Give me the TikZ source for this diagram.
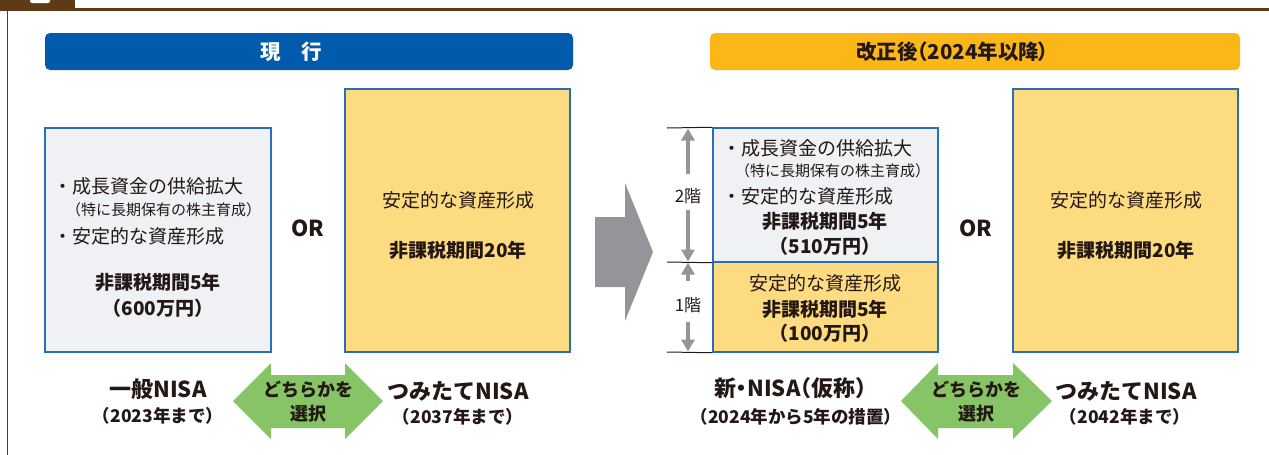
\documentclass[tikz,border=0pt]{standalone}
\usepackage{fontspec}
\setmainfont{Noto Sans CJK JP}
\usetikzlibrary{arrows.meta}
\definecolor{ink}{HTML}{231815}
\definecolor{brown}{HTML}{5E3A16}
\definecolor{hdrblue}{HTML}{005BAC}
\definecolor{hdrorange}{HTML}{FBB718}
\definecolor{boxblue}{HTML}{2A6EBB}
\definecolor{boxgray}{HTML}{EFF1F4}
\definecolor{boxyellow}{HTML}{FDDB80}
\definecolor{arrgray}{HTML}{939598}
\definecolor{arrgreen}{HTML}{86C465}
\tikzset{
  txt/.style={inner sep=0pt, text=ink, font=\fontsize{19}{21}\selectfont},
  small/.style={inner sep=0pt, text=ink, font=\fontsize{15}{17}\selectfont},
  boldtxt/.style={inner sep=0pt, text=ink, font=\fontsize{19}{21}\selectfont\bfseries},
  bigbold/.style={inner sep=0pt, text=ink, font=\fontsize{22}{24}\selectfont\bfseries},
  subbold/.style={inner sep=0pt, text=ink, font=\fontsize{17.5}{19}\selectfont\bfseries},
  choose/.style={inner sep=0pt, text=ink, font=\fontsize{18}{20}\selectfont\bfseries},
  ortxt/.style={inner sep=0pt, text=ink, font=\fontsize{22}{24}\selectfont\bfseries},
  floortxt/.style={inner sep=0pt, text=ink, font=\fontsize{17}{19}\selectfont},
  grayboxst/.style={draw=boxblue, line width=1.5pt, fill=boxgray, inner sep=0pt},
  yellowboxst/.style={draw=boxblue, line width=1.5pt, fill=boxyellow, inner sep=0pt},
  header/.style={rounded corners=5pt, inner sep=0pt, minimum height=37pt},
  headtxt/.style={inner sep=0pt, font=\fontsize{20.5}{22}\selectfont\bfseries},
  varrow/.style={draw=arrgray, line width=3.5pt, -{Triangle[width=13pt,length=12pt]}},
  floorline/.style={draw=ink, line width=1pt},
}
\begin{document}
\begin{tikzpicture}[x=1pt,y=-1pt]
\useasboundingbox (0,0) rectangle (1269,455);
% top frame
\fill[brown] (0,0) rectangle (75,10);
\fill[white, rounded corners=2pt] (30,-4) rectangle (50,3);
\fill[brown] (0,8) rectangle (1269,11);
\draw[brown, line width=1pt] (7,10) -- (7,455);

% headers
\node[header, fill=hdrblue, minimum width=528pt] (hcur) at (309,51.5) {};
\node[headtxt, text=white] (hcurt) at (291,51.5) {現\hspace{1em}行};
\node[header, fill=hdrorange, minimum width=530pt] (hnew) at (975,51.5) {};
\node[headtxt, text=ink] (hnewt) at (957,51.5) {改正後\kern-0.5em（2024年以降\kern-0.1em）};

% left: current general NISA box
\node[grayboxst, minimum width=226pt, minimum height=224pt] (gen) at (158,240) {};
\node[txt, anchor=west] (g1) at (53,186) {・成長資金の供給拡大};
\node[small, anchor=west] (g2) at (66,210) {（特に長期保有の株主育成）};
\node[txt, anchor=west] (g3) at (53,236) {・安定的な資産形成};
\node[boldtxt] (g4) at (158,282) {非課税期間5年};
\node[boldtxt] (g5) at (158,308) {（600万円）};

\node[ortxt] (or1) at (308,228) {OR};

% left: tsumitate box
\node[yellowboxst, minimum width=225pt, minimum height=263pt] (tsu) at (457.5,220.5) {};
\node[txt] (t1) at (458,200) {安定的な資産形成};
\node[boldtxt] (t2) at (458,250) {非課税期間20年};

% big gray arrow
\fill[arrgray] (595,217) -- (625,217) -- (625,183) -- (653,252) -- (625,321) -- (625,287) -- (595,287) -- cycle;

% right: new NISA two floors
\node[grayboxst, minimum width=225pt, minimum height=134pt] (up) at (825.5,195) {};
\node[yellowboxst, minimum width=225pt, minimum height=90pt] (lo) at (825.5,307) {};
\node[txt, anchor=west] (u1) at (722,148) {・成長資金の供給拡大};
\node[small, anchor=west] (u2) at (735,171) {（特に長期保有の株主育成）};
\node[txt, anchor=west] (u3) at (722,196) {・安定的な資産形成};
\node[boldtxt] (u4) at (825,221) {非課税期間5年};
\node[boldtxt] (u5) at (825,246) {（510万円）};
\node[txt] (l1) at (825,283) {安定的な資産形成};
\node[boldtxt] (l2) at (825,309) {非課税期間5年};
\node[boldtxt] (l3) at (825,333) {（100万円）};

% floor lines and arrows
\coordinate (f0a) at (667,128); \coordinate (f0b) at (up.north west);
\coordinate (f1a) at (667,262); \coordinate (f1b) at (up.south west);
\coordinate (f2a) at (667,352); \coordinate (f2b) at (lo.south west);
\draw[floorline] (f0a) -- (f0b);
\draw[floorline] (f1a) -- (f1b);
\draw[floorline] (f2a) -- (f2b);
\node[floortxt] (fl2) at (688,196) {2階};
\node[floortxt] (fl1) at (688,305) {1階};
\coordinate (a2t) at (688,128.5); \coordinate (a2u) at (688,174);
\coordinate (a2d) at (688,210); \coordinate (a2b) at (688,261.5);
\coordinate (a1t) at (688,262.5); \coordinate (a1u) at (688,281);
\coordinate (a1d) at (688,322); \coordinate (a1b) at (688,351.5);
\draw[varrow] (a2u) -- (a2t);
\draw[varrow] (a2d) -- (a2b);
\draw[varrow] (a1u) -- (a1t);
\draw[varrow] (a1d) -- (a1b);

\node[ortxt] (or2) at (976,228) {OR};

% right tsumitate box
\node[yellowboxst, minimum width=225pt, minimum height=263pt] (tsu2) at (1125.5,220.5) {};
\node[txt] (r1) at (1126,200) {安定的な資産形成};
\node[boldtxt] (r2) at (1126,250) {非課税期間20年};

% bottom left labels and green arrow
\fill[arrgreen] (233,401) -- (271,363) -- (271,375) -- (345,375) -- (345,363) -- (383,401)
  -- (345,439) -- (345,428) -- (271,428) -- (271,439) -- cycle;
\node[choose] (c1a) at (308,390) {どちらかを};
\node[choose] (c1b) at (308,414) {選択};
\node[bigbold] (b1) at (158,389) {一般NISA};
\node[subbold] (b2) at (158,416) {（2023年まで）};
\node[bigbold] (b3) at (458,391) {つみたてNISA};
\node[subbold] (b4) at (458,417) {（2037年まで）};

% bottom right labels and green arrow
\fill[arrgreen] (901,401) -- (938,363) -- (938,375) -- (1013,375) -- (1013,363) -- (1052,401)
  -- (1013,439) -- (1013,428) -- (938,428) -- (938,439) -- cycle;
\node[choose] (c2a) at (976,390) {どちらかを};
\node[choose] (c2b) at (976,414) {選択};
\node[bigbold] (b5) at (796,388) {新\kern-0.25em・\kern-0.25em NISA\kern-0.5em（仮称）};
\node[subbold] (b6) at (796,417) {（2024年から5年の措置）};
\node[bigbold] (b7) at (1126,391) {つみたてNISA};
\node[subbold] (b8) at (1125,417) {（2042年まで）};
\end{tikzpicture}
\end{document}
